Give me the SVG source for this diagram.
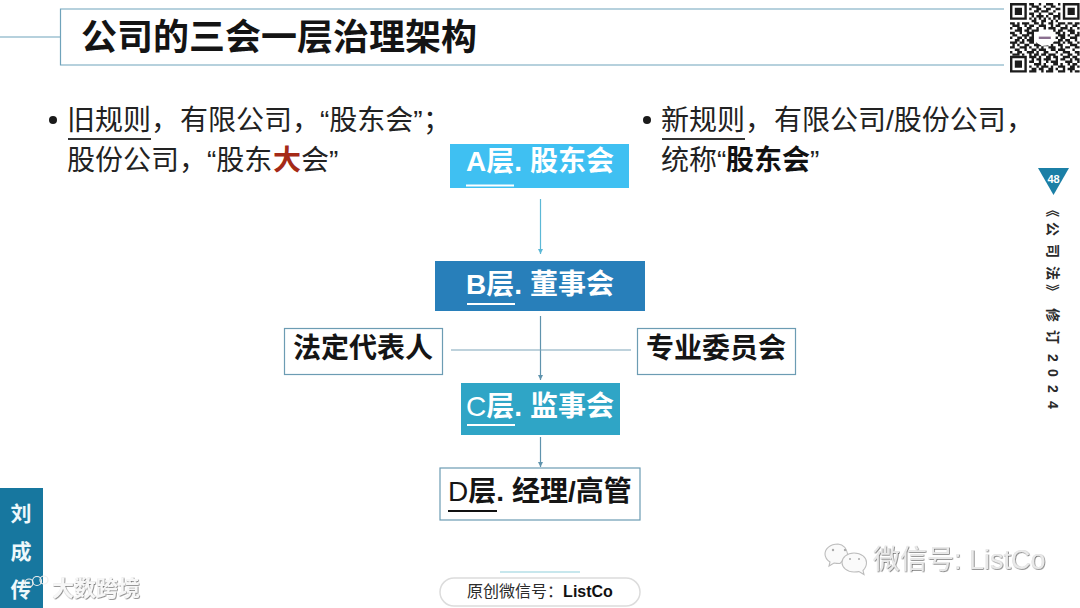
<svg xmlns="http://www.w3.org/2000/svg" width="1080" height="608" viewBox="0 0 1080 608">
<style>
text{font-family:"Liberation Sans","Noto Sans CJK SC",sans-serif}
.title{font-size:36px;font-weight:700;fill:#141414}
.body{font-size:28px;fill:#222}
.strong{font-weight:700;fill:#111}
.node{font-size:28px;font-weight:700}
.lat{font-weight:400}
.w{fill:#fff}.k{fill:#151515}
.conn{fill:none;stroke-width:1.2}
.ul{stroke-width:2;fill:none}
.wm{fill:#f7f7f7;filter:url(#emboss)}
</style>
<defs>
<filter id="emboss" x="-10%" y="-20%" width="120%" height="140%"><feDropShadow dx="0.6" dy="0.6" stdDeviation="0.7" flood-color="#555"/></filter>
<marker id="ah1" markerWidth="6" markerHeight="5" refX="5" refY="2.5" orient="auto" markerUnits="userSpaceOnUse"><path d="M0 0L5 2.5L0 5z" fill="#5cb8d6"/></marker>
<marker id="ah2" markerWidth="6" markerHeight="5" refX="5" refY="2.5" orient="auto" markerUnits="userSpaceOnUse"><path d="M0 0L5 2.5L0 5z" fill="#5f93ad"/></marker>
</defs>
<rect width="1080" height="608" fill="#fff"/>

<g id="header" fill="none" stroke="#6fa3bb" stroke-width="1.2">
<path d="M0 37H60.500M1004 9H60.500V65H1004"/>
</g>
<text class="title" x="81" y="50">公司的三会一层治理架构</text>

<g id="qr" transform="translate(1010,3) scale(2.4)">
<path fill="none" stroke="#1c1c1c" stroke-width="1" d="M0 .5h7M22 .5h7M0 1.5h1M6 1.500h1M22 1.500h1M28 1.500h1M0 2.500h1M2 2.500h3M6 2.500h1M22 2.500h1M24 2.500h3M28 2.500h1M0 3.500h1M2 3.500h3M6 3.500h1M22 3.500h1M24 3.500h3M28 3.500h1M0 4.500h1M2 4.500h3M6 4.500h1M22 4.500h1M24 4.500h3M28 4.500h1M0 5.500h1M6 5.500h1M22 5.500h1M28 5.500h1M0 6.500h7M22 6.500h7M0 22.500h7M0 23.500h1M6 23.500h1M0 24.500h1M2 24.500h3M6 24.500h1M0 25.500h1M2 25.500h3M6 25.500h1M0 26.500h1M2 26.500h3M6 26.500h1M0 27.500h1M6 27.500h1M0 28.500h7"/>
<path fill="none" stroke="#1c1c1c" stroke-width="1" d="M8 .5h2M12 .5h1M15 .5h3M20 .5h1M9 1.500h3M14 1.500h1M17 1.500h2M8 2.500h1M11 2.500h2M15 2.500h2M19 2.500h2M10 3.500h2M13 3.500h3M18 3.500h1M8 4.500h2M12 4.500h1M16 4.500h2M20 4.500h1M9 5.500h1M11 5.500h3M15 5.500h1M18 5.500h3M8 6.500h1M10 6.500h1M12 6.500h1M14 6.500h1M16 6.500h1M18 6.500h1M20 6.500h1M9 7.500h2M13 7.500h2M17 7.500h1M19 7.500h1M0 8.500h2M3 8.500h1M5 8.500h3M10 8.500h2M13 8.500h1M16 8.500h2M20 8.500h3M24 8.500h2M27 8.500h2M1 9.500h3M6 9.500h1M8 9.500h2M12 9.500h3M17 9.500h1M19 9.500h2M23 9.500h1M26 9.500h2M0 10.500h1M3 10.500h2M7 10.500h2M11 10.500h1M14 10.500h1M16 10.500h3M21 10.500h3M25 10.500h1M28 10.500h1M2 11.500h3M6 11.500h2M9 11.500h3M18 11.500h1M20 11.500h2M24 11.500h3M0 12.500h2M4 12.500h1M7 12.500h3M19 12.500h2M22 12.500h1M25 12.500h2M28 12.500h1M1 13.500h2M5 13.500h3M9 13.500h1M20 13.500h3M24 13.500h1M27 13.500h2M0 14.500h1M3 14.500h2M6 14.500h1M8 14.500h2M19 14.500h1M21 14.500h2M25 14.500h3M2 15.500h2M5 15.500h1M7 15.500h3M20 15.500h2M23 15.500h2M27 15.500h1M0 16.500h3M4 16.500h2M8 16.500h2M11 16.500h1M18 16.500h3M22 16.500h1M24 16.500h2M28 16.500h1M1 17.500h1M3 17.500h1M6 17.500h2M10 17.500h3M14 17.500h2M17 17.500h1M20 17.500h2M25 17.500h3M0 18.500h2M4 18.500h3M8 18.500h1M11 18.500h1M13 18.500h1M16 18.500h3M21 18.500h1M23 18.500h2M27 18.500h2M2 19.500h2M6 19.500h1M9 19.500h2M12 19.500h3M17 19.500h2M20 19.500h3M26 19.500h1M0 20.500h1M3 20.500h2M7 20.500h3M11 20.500h1M14 20.500h2M19 20.500h1M22 20.500h3M27 20.500h2M1 21.500h3M5 21.500h1M8 21.500h1M10 21.500h2M13 21.500h2M16 21.500h3M21 21.500h1M24 21.500h2M28 21.500h1M8 22.500h3M12 22.500h1M15 22.500h2M18 22.500h2M22 22.500h3M26 22.500h2M9 23.500h1M11 23.500h2M14 23.500h3M19 23.500h1M21 23.500h2M25 23.500h1M27 23.500h2M8 24.500h2M12 24.500h1M15 24.500h1M17 24.500h3M23 24.500h3M28 24.500h1M10 25.500h3M14 25.500h1M18 25.500h2M21 25.500h1M24 25.500h1M26 25.500h2M8 26.500h1M11 26.500h1M13 26.500h3M17 26.500h1M20 26.500h3M25 26.500h2M28 26.500h1M9 27.500h2M12 27.500h2M16 27.500h2M19 27.500h1M22 27.500h1M24 27.500h3M8 28.500h3M13 28.500h1M15 28.500h3M20 28.500h3M25 28.500h1M27 28.500h2"/>
<ellipse cx="14.500" cy="14.500" rx="4.300" ry="3.300" fill="#fff"/>
<rect x="12" y="14" width="5" height="1" fill="#8a6f8f"/>
</g>

<g id="rule-old">
<circle cx="53" cy="120" r="4" fill="#1a1a1a"/>
<text class="body" y="130"><tspan x="67">旧规则</tspan><tspan x="151">，</tspan><tspan x="180">有限公司</tspan><tspan x="292">，</tspan><tspan x="320">“股东会”</tspan><tspan x="423">；</tspan></text>
<path class="ul" d="M68 139H151" stroke="#333"/>
<text class="body" y="170"><tspan x="67">股份公司</tspan><tspan x="179">，</tspan><tspan x="207">“股东</tspan><tspan x="273" fill="#a52a17" font-weight="700">大</tspan><tspan x="301">会”</tspan></text>
</g>

<g id="rule-new">
<circle cx="647" cy="120" r="4" fill="#1a1a1a"/>
<text class="body" y="130"><tspan x="661">新规则</tspan><tspan x="745">，</tspan><tspan x="774">有限公司/股份公司</tspan><tspan x="1006">，</tspan></text>
<path class="ul" d="M662 139H745" stroke="#333"/>
<text class="body" y="170"><tspan x="661">统称“</tspan><tspan x="726" class="strong">股东会</tspan><tspan x="810">”</tspan></text>
</g>

<g id="connectors">
<path class="conn" stroke="#5cb8d6" d="M540.500 199V254" marker-end="url(#ah1)"/>
<path class="conn" stroke="#5f93ad" d="M540.500 316V380" marker-end="url(#ah2)"/>
<path class="conn" stroke="#5f93ad" d="M540.500 437V467" marker-end="url(#ah2)"/>
<path class="conn" stroke="#7fa5ba" d="M451 350H631"/>
</g>

<g id="node-a">
<rect x="450" y="144" width="179" height="44" fill="#3fc0f2"/>
<text class="node w" y="171"><tspan x="466">A层.</tspan><tspan x="530">股东会</tspan></text>
<path class="ul" d="M466 185.500H514" stroke="#fff"/>
</g>
<g id="node-b">
<rect x="435" y="261" width="210" height="50" fill="#287fba"/>
<text class="node w" y="294"><tspan x="466">B层.</tspan><tspan x="530">董事会</tspan></text>
<path class="ul" d="M467 304H515" stroke="#fff"/>
</g>
<g id="node-c">
<rect x="461" y="383" width="159" height="52" fill="#2fa5c6"/>
<text class="node w" y="416"><tspan x="466" class="lat">C</tspan><tspan>层.</tspan><tspan x="530">监事会</tspan></text>
<path class="ul" d="M467 425H515" stroke="#fff"/>
</g>
<g id="node-d">
<rect x="440" y="468" width="200" height="52" fill="#fff" stroke="#6c9cb3" stroke-width="1.200"/>
<text class="node k" y="501"><tspan x="448" class="lat">D</tspan><tspan>层.</tspan><tspan x="512">经理/高管</tspan></text>
<path class="ul" d="M448 511H497" stroke="#111"/>
</g>
<g id="node-left">
<rect x="284.500" y="328.500" width="158" height="46" fill="#fff" stroke="#6c9cb3" stroke-width="1.200"/>
<text class="node k" x="293" y="358">法定代表人</text>
</g>
<g id="node-right">
<rect x="637.500" y="328.500" width="158" height="46" fill="#fff" stroke="#6c9cb3" stroke-width="1.200"/>
<text class="node k" x="646" y="358">专业委员会</text>
</g>

<g id="page-mark">
<path d="M1038 168H1069L1053.500 195z" fill="#1b7fa6"/>
<text x="1053.500" y="183" font-size="11" font-weight="700" fill="#fff" text-anchor="middle">48</text>
</g>
<text transform="translate(1053,0) rotate(90)" y="5" font-size="14" font-weight="700" fill="#2a2a2a" text-anchor="middle" x="210 229 251 273 291 315 337 358 373 389 405">《公司法》修订2024</text>

<path id="foot-line" d="M500 572H580" stroke="#8fd0dc" stroke-width="1.200" fill="none"/>
<g id="badge">
<rect x="440" y="578" width="200" height="28" rx="14" fill="#fff" stroke="#dcdcdc" stroke-width="1.500"/>
<text x="540" y="597" font-size="16" text-anchor="middle" fill="#2b2b2b">原创微信号：<tspan font-weight="700" fill="#111">ListCo</tspan></text>
</g>

<g id="author">
<rect x="0" y="488" width="43" height="120" fill="#17779f"/>
<g font-size="21" font-weight="700" fill="#eef8fb" text-anchor="middle" style="font-family:'Noto Sans CJK SC',serif">
<text x="21" y="521">刘</text><text x="21" y="559">成</text><text x="21" y="597">传</text>
</g>
</g>

<g id="watermarks">
<g fill="none" stroke="#eee" stroke-width="1.200"><circle cx="29" cy="583" r="4"/><circle cx="37" cy="581" r="4.500"/><circle cx="44" cy="580" r="4"/></g>
<text class="wm" x="52" y="596" font-size="22" font-weight="700">大数跨境</text>
<g fill="#fafafa" stroke="#bdbdbd" stroke-width="1.100">
<path d="M838 544c-8 0-13 5-13 10 0 3 2 6 5 8l-1 4 5-3c2 .5 4 .5 6 .5l8-8c-1-6-4-11-10-11.500z"/>
<path d="M854 553c-7 0-12 4.500-12 9.500s5 9.500 12 9.500c2 0 3.500 0 5-.5l5 3-1-4c2-2 3.500-5 3.500-8 0-5-5-9.500-12.500-9.500z"/>
</g>
<g fill="#aaa"><circle cx="833" cy="550" r="1.200"/><circle cx="845" cy="550" r="1.200"/><circle cx="850" cy="559" r="1"/><circle cx="859" cy="559" r="1"/></g>
<text class="wm" x="873" y="569" font-size="27" style="fill:#e9e9e9">微信号: ListCo</text>
</g>
</svg>
